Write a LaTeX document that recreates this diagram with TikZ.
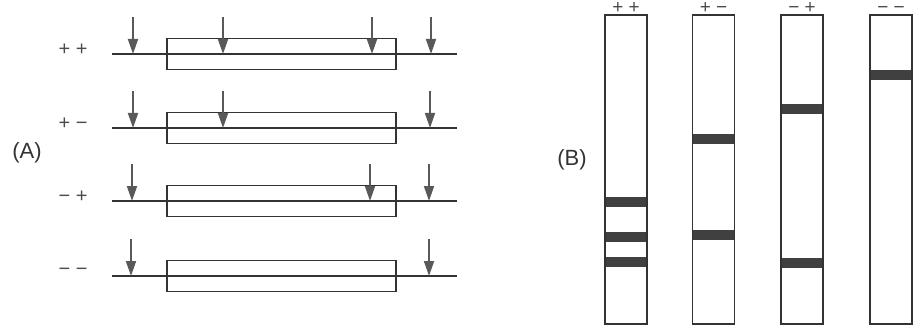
\documentclass[tikz,border=0pt]{standalone}
\usepackage{fontspec}
\setmainfont{Liberation Sans}
\usetikzlibrary{arrows.meta}

\begin{document}
\begin{tikzpicture}[
    x=1pt, y=-1pt,
    dna/.style={draw=black!80, line width=2pt},
    gene/.style={draw=black!80, line width=1.1pt, minimum width=229pt,
                 minimum height=31pt, inner sep=0pt},
    cut/.style={-{Triangle[length=15pt, width=10pt]}, line width=1.8pt,
                draw=black!65, fill=black!65},
    lane/.style={draw=black!80, line width=1.1pt, minimum width=42pt,
                 minimum height=309pt, inner sep=0pt},
    band/.style={fill=black!75},
    sign/.style={font=\fontsize{20}{22}\selectfont, text=black!70, inner sep=0pt},
    head/.style={font=\fontsize{19}{21}\selectfont, text=black!70, inner sep=0pt,
                 anchor=base},
    panel/.style={font=\fontsize{22}{24}\selectfont, text=black!80}
]
\useasboundingbox (0,0) rectangle (917,331);

% ------------------------
% Panel labels
% ------------------------
\node[panel] (labA) at (27,153) {(A)};
\node[panel] (labB) at (572,160) {(B)};

% ------------------------
% (A) DNA with cut sites
% ------------------------
\foreach \name/\y/\lab/\sites in {
    pp/54/{+ +}/{133,223,372,431},
    pm/128/{+ −}/{133,223,430},
    mp/201/{− +}/{132,370,429},
    mm/276/{− −}/{131,429}} {
  \node[sign] (\name-sign) at (73,\y-4) {\lab};
  \node[gene] (\name-gene) at (281.5,\y) {};
  \coordinate (\name-l) at (112,\y);
  \coordinate (\name-r) at (457,\y);
  \draw[dna] (\name-l) -- (\name-r);
  \foreach \x in \sites {
    \coordinate (\name-top-\x) at (\x,\y-37);
    \coordinate (\name-cut-\x) at (\x,\y);
    \draw[cut] (\name-top-\x) -- (\name-cut-\x);
  }
}

% ------------------------
% (B) Gel lanes with bands
% ------------------------
\foreach \name/\x/\lab/\bands in {
    pp/626/{+ +}/{202,236.5,261.5},
    pm/713.5/{+ −}/{139,234.5},
    mp/802/{− +}/{109,263},
    mm/891/{− −}/{75.5}} {
  \node[head] (\name-head) at (\x,14) {\lab};
  \foreach \b in \bands {
    \fill[band] (\x-21,\b-5) rectangle (\x+21,\b+5);
  }
  \node[lane] (\name-lane) at (\x,169.5) {};
}

\end{tikzpicture}
\end{document}
